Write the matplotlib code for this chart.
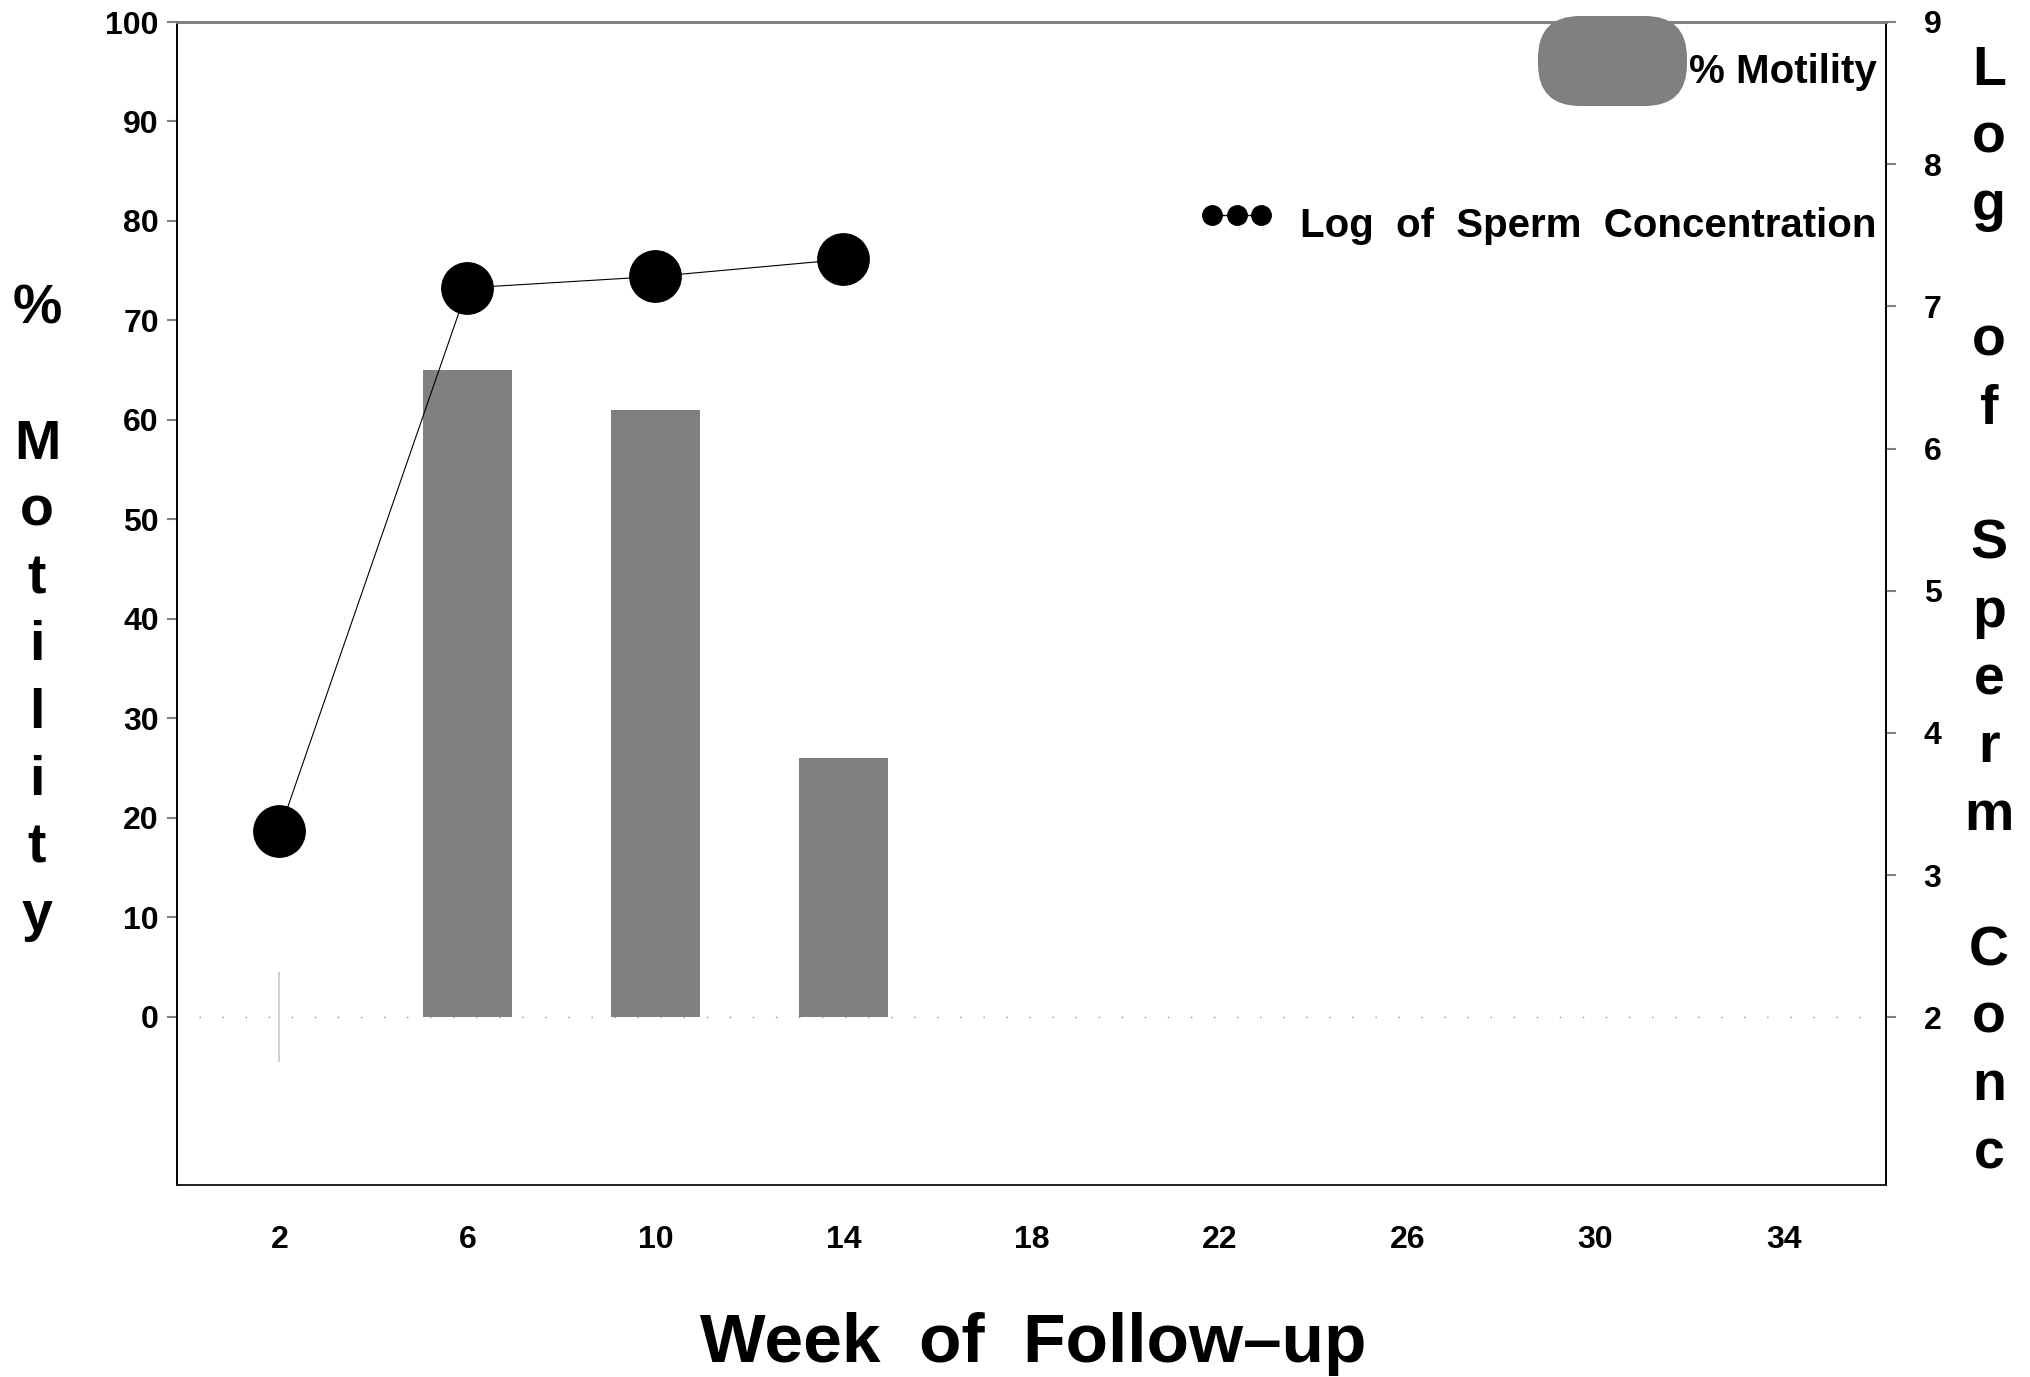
import matplotlib
matplotlib.use('Agg')
import matplotlib.pyplot as plt
from matplotlib.patches import FancyBboxPatch

plt.rcParams['font.family'] = ['Liberation Sans', 'DejaVu Sans']
plt.rcParams['font.weight'] = 'bold'

# data
weeks_bar = [6, 10, 14]
motility = [65, 61, 26]
weeks_conc = [2, 6, 10, 14]
log_conc = [3.31, 7.13, 7.21, 7.33]
x_ticks = [2, 6, 10, 14, 18, 22, 26, 30, 34]
left_ticks = [0, 10, 20, 30, 40, 50, 60, 70, 80, 90, 100]
right_ticks = [2, 3, 4, 5, 6, 7, 8, 9]

fig = plt.figure(figsize=(20.3, 13.77), dpi=100)
ax = fig.add_axes([177/2030, 1 - 1185/1377, (1886-177)/2030, (1185-22)/1377])

# motility bars
ax.bar(weeks_bar, motility, width=1.9, color='#808080', zorder=2)
ax.axhline(0, xmin=0.013, xmax=0.987, color='#909090', lw=1,
           linestyle=(0, (1, 15.6)), zorder=1)
ax.vlines(2, -4.5, 4.5, color='#c8c8c8', lw=1.2, zorder=1)

ax.set_xlim(-0.18, 36.18)
ax.set_ylim(-16.9, 100)
ax.set_xticks(x_ticks)
ax.set_yticks(left_ticks)
ax.tick_params(axis='x', length=0, pad=29, labelsize=23)
ax.tick_params(axis='y', length=7.2, width=1.5, color='#808080', pad=5.8, labelsize=23)

# log concentration line on right axis
ax2 = ax.twinx()
ax2.plot(weeks_conc, log_conc, color='black', lw=0.8, marker='o',
         markersize=37, markerfacecolor='black', markeredgecolor='black', zorder=3)
ax2.set_ylim(0.82, 9)
ax2.set_yticks(right_ticks)
ax2.tick_params(axis='y', length=7.2, width=1.5, color='#808080', pad=20, labelsize=23)

for a in (ax, ax2):
    a.spines['left'].set_color('black')
    a.spines['right'].set_color('black')
    a.spines['bottom'].set_color('#202020')
    a.spines['top'].set_color('#808080')
    a.spines['top'].set_linewidth(2)
    for s in ('left', 'right', 'bottom'):
        a.spines[s].set_linewidth(1.2)

# overlay in pixel coords for stacked labels and legend
ov = fig.add_axes([0, 0, 1, 1], zorder=10)
ov.set_xlim(0, 2030)
ov.set_ylim(1377, 0)
ov.axis('off')
ov.patch.set_alpha(0)

for i, ch in enumerate('% Motility'):
    ov.text(37, 324 + i*67.3, ch, fontsize=40, ha='center', va='baseline')
for i, ch in enumerate('Log of Sperm Conc'):
    ov.text(1989, 85 + i*67.7, ch, fontsize=40, ha='center', va='baseline')

ov.text(1033, 1362, 'Week  of  Follow\u2013up', fontsize=50, ha='center', va='baseline')

# legend
ov.add_patch(FancyBboxPatch((1538, 16), 149, 90, boxstyle='round,pad=0,rounding_size=42',
                            facecolor='#808080', edgecolor='none'))
ov.text(1877, 83, '% Motility', fontsize=29, ha='right', va='baseline')
ov.plot([1212, 1237, 1261], [215, 215, 215], color='black', lw=1, marker='o', markersize=14)
ov.text(1877, 237, 'Log  of  Sperm  Concentration', fontsize=29, ha='right', va='baseline')

plt.savefig('out.png', dpi=100)
